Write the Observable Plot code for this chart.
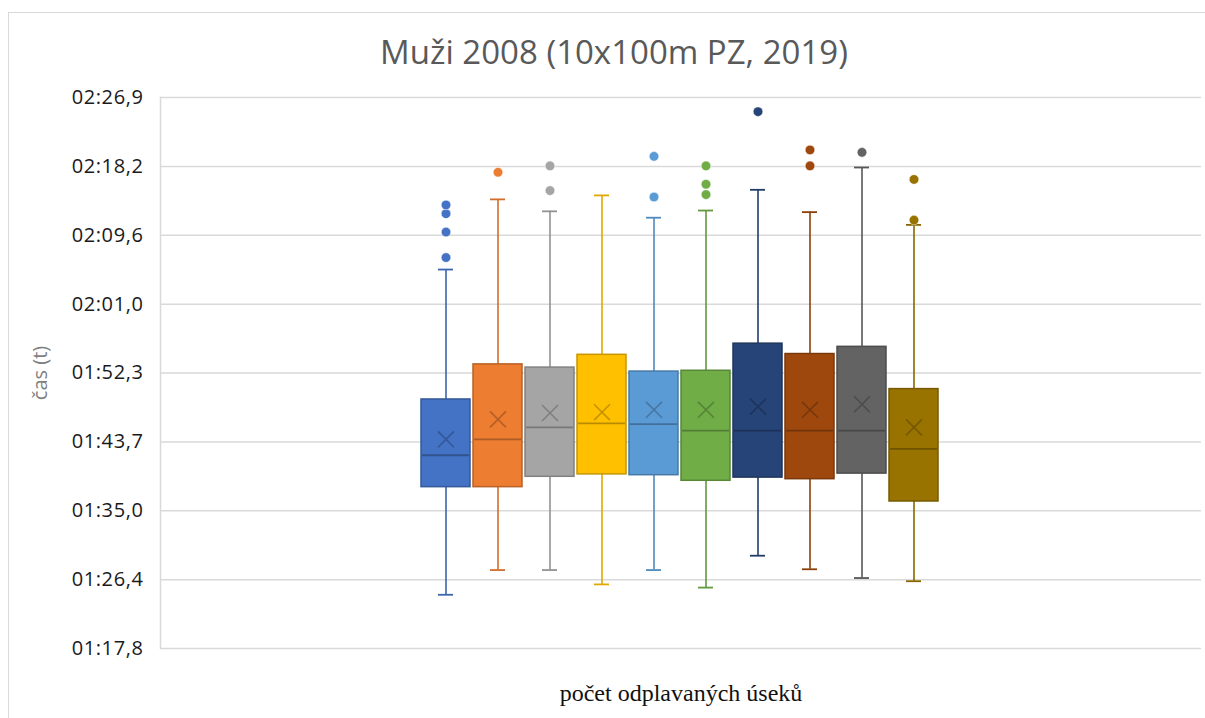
<!DOCTYPE html>
<html>
<head>
<meta charset="utf-8">
<script src="https://cdn.jsdelivr.net/npm/d3@7"></script>
<script src="https://cdn.jsdelivr.net/npm/@observablehq/plot@0.6"></script>
<style>
  html, body { margin: 0; padding: 0; background: #fff; }
  #wrap { position: relative; width: 1205px; height: 718px; overflow: hidden; }
  #border { position: absolute; left: 8px; top: 12px; width: 1230px; height: 740px; border: 1px solid #d9d9d9; box-sizing: border-box; }
  #title { position: absolute; left: 0; width: 1228px; top: 29px; text-align: center; font-family: "Open Sans", sans-serif; font-size: 33px; color: #595959; white-space: nowrap; }
  #ylabel { position: absolute; left: 39px; top: 373px; transform: translate(-50%, -50%) rotate(-90deg); font-family: "Open Sans", sans-serif; font-size: 20px; color: #7f7f7f; white-space: nowrap; }
  #xlabel { position: absolute; left: 0; width: 1362px; top: 680px; text-align: center; font-family: "Liberation Serif", "Times New Roman", serif; font-size: 24px; color: #111; white-space: nowrap; }
  #chart { position: absolute; left: 0; top: 0; }
  #chart svg g[aria-label="y-axis tick label"] text { letter-spacing: 0.6px; }
</style>
</head>
<body>
<div id="wrap">
  <div id="border"></div>
  <div id="chart"></div>
  <div id="title">Muži 2008 (10x100m PZ, 2019)</div>
  <div id="ylabel">čas (t)</div>
  <div id="xlabel">počet odplavaných úseků</div>
</div>
<script>
// Series (one per swum segment), values in seconds
const series = ["1", "2", "3", "4", "5", "6", "7", "8", "9", "10"];
const lowWhisker  = [84.5, 87.6, 87.6, 85.8, 87.6, 85.4, 89.4, 87.7, 86.6, 86.2];
const q1          = [98.0, 98.0, 99.3, 99.6, 99.5, 98.8, 99.2, 99.0, 99.7, 96.2];
const median      = [102.0, 104.0, 105.5, 106.0, 105.9, 105.1, 105.1, 105.1, 105.1, 102.8];
const q3          = [109.0, 113.4, 113.0, 114.6, 112.5, 112.6, 116.0, 114.7, 115.6, 110.3];
const highWhisker = [125.3, 134.1, 132.6, 134.6, 131.8, 132.7, 135.3, 132.5, 138.1, 130.9];
const mean        = [104.0, 106.5, 107.3, 107.4, 107.7, 107.7, 108.1, 107.7, 108.4, 105.5];
const outliers = [
  [126.8, 130.0, 132.3, 133.4],
  [137.5],
  [135.2, 138.3],
  [],
  [134.4, 139.5],
  [134.7, 136.0, 138.3],
  [145.1],
  [138.3, 140.3],
  [140.0],
  [131.5, 136.6]
];
const tickValues = [77.76, 86.4, 95.04, 103.68, 112.32, 120.96, 129.6, 138.24, 146.88];
const tickLabels = ["01:17,8", "01:26,4", "01:35,0", "01:43,7", "01:52,3", "02:01,0", "02:09,6", "02:18,2", "02:26,9"];

// Styles
const palette = ["#4472C4", "#ED7D31", "#A5A5A5", "#FFC000", "#5B9BD5", "#70AD47", "#264478", "#9E480E", "#636363", "#997300"];
const shade = (k) => palette.map(c => d3.color(c).darker(k).formatHex());
const edgeCol = shade(0.7);
const whiskCol = shade(0.35);
const markCol = shade(0.9);

const boxes = series.map((s, i) => ({
  series: s, i, low: lowWhisker[i], q1: q1[i], median: median[i], q3: q3[i], high: highWhisker[i], mean: mean[i]
}));
const outlierRows = series.flatMap((s, i) => outliers[i].map(v => ({series: s, i, value: v})));

const chart = Plot.plot({
  width: 1205,
  height: 718,
  marginTop: 97,
  marginBottom: 70,
  marginLeft: 160,
  marginRight: 4,
  style: {background: "transparent", fontFamily: "'Open Sans', sans-serif"},
  x: {type: "band", domain: series, range: [416, 942], padding: 0.06, align: 0.5, axis: null},
  y: {domain: [tickValues[0], tickValues[tickValues.length - 1]], axis: null},
  color: {type: "identity"},
  marks: [
    Plot.ruleY(tickValues, {stroke: "#d9d9d9", strokeWidth: 1.5}),
    Plot.frame({anchor: "left", stroke: "#d9d9d9", strokeWidth: 1.5}),
    Plot.axisY({
      ticks: tickValues,
      tickFormat: (d, i) => tickLabels[i],
      tickSize: 0,
      tickPadding: 17,
      fontSize: 20,
      fill: "#1a1a1a",
      label: null
    }),
    // whiskers
    Plot.ruleX(boxes, {x: "series", y1: "low", y2: "q1", stroke: d => whiskCol[d.i], strokeWidth: 1.6}),
    Plot.ruleX(boxes, {x: "series", y1: "q3", y2: "high", stroke: d => whiskCol[d.i], strokeWidth: 1.6}),
    Plot.tickY(boxes, {x: "series", y: "low", stroke: d => whiskCol[d.i], strokeWidth: 1.8, insetLeft: 17, insetRight: 17}),
    Plot.tickY(boxes, {x: "series", y: "high", stroke: d => whiskCol[d.i], strokeWidth: 1.8, insetLeft: 17, insetRight: 17}),
    // boxes
    Plot.barY(boxes, {x: "series", y1: "q1", y2: "q3", fill: d => palette[d.i], stroke: d => edgeCol[d.i], strokeWidth: 1.5}),
    Plot.tickY(boxes, {x: "series", y: "median", stroke: d => markCol[d.i], strokeWidth: 1.8, insetLeft: 1, insetRight: 1}),
    Plot.dot(boxes, {x: "series", y: "mean", symbol: "times", r: 7.3, stroke: d => markCol[d.i], strokeWidth: 1.6, strokeOpacity: 0.85}),
    // outliers
    Plot.dot(outlierRows, {x: "series", y: "value", r: 4.8, fill: d => palette[d.i], stroke: "#ffffff", strokeOpacity: 0.5, strokeWidth: 1})
  ]
});
document.getElementById("chart").appendChild(chart);
</script>
</body>
</html>
